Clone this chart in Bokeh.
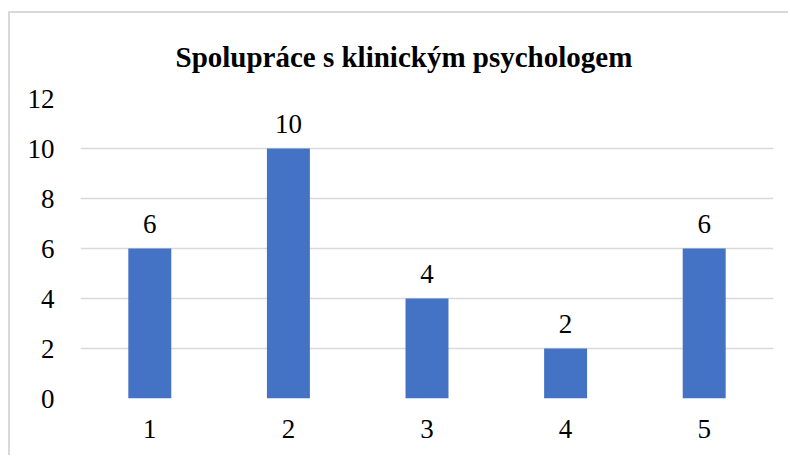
from bokeh.plotting import figure
from bokeh.models import ColumnDataSource, LabelSet, FactorRange, Range1d, FixedTicker
from bokeh.embed import file_html
from bokeh.resources import INLINE

categories = ["1", "2", "3", "4", "5"]
values = [6, 10, 4, 2, 6]
y_ticks = [0, 2, 4, 6, 8, 10, 12]
title_text = "Spolupráce s klinickým psychologem"

FONT = "Liberation Serif"

source = ColumnDataSource(data=dict(cat=categories, val=values, lbl=[str(v) for v in values]))

p = figure(
    width=780, height=444,
    x_range=FactorRange(*categories, range_padding=0),
    y_range=Range1d(0, 12),
    output_backend="svg", toolbar_location=None,
    min_border_left=70, min_border_right=17, min_border_top=85, min_border_bottom=59,
    styles={"margin-left": "8px", "margin-top": "11px",
            "border-left": "2px solid #d9d9d9", "border-top": "2px solid #d9d9d9"},
)
p.x_range.range_padding = 0

p.vbar(x="cat", top="val", width=0.31, source=source, color="#4472C4", line_color=None)

labels = LabelSet(x="cat", y="val", text="lbl", source=source, text_align="center",
                  text_baseline="alphabetic", y_offset=16, text_font=FONT,
                  text_font_size="27px", text_color="#000000")
p.add_layout(labels)

p.title.text = title_text
p.title.text_font = FONT
p.title.text_font_size = "29px"
p.title.text_font_style = "bold"
p.title.align = "left"
p.title.offset = 95
p.title.text_color = "#000000"
p.title.standoff = 51

p.xgrid.grid_line_color = None
p.ygrid.grid_line_color = "#d9d9d9"
p.ygrid.grid_line_width = 1.5
p.yaxis.ticker = FixedTicker(ticks=y_ticks)

for ax in (p.xaxis, p.yaxis):
    ax.axis_line_color = None
    ax.major_tick_line_color = None
    ax.minor_tick_line_color = None
    ax.major_tick_out = 0
    ax.major_tick_in = 0
    ax.major_label_text_font = FONT
    ax.major_label_text_font_size = "27px"
    ax.major_label_text_color = "#000000"

p.yaxis.major_label_standoff = 26
p.xaxis.major_label_standoff = 21

p.outline_line_color = None
p.background_fill_color = "white"
p.border_fill_color = "white"

open("out.html", "w").write(file_html(p, INLINE))
